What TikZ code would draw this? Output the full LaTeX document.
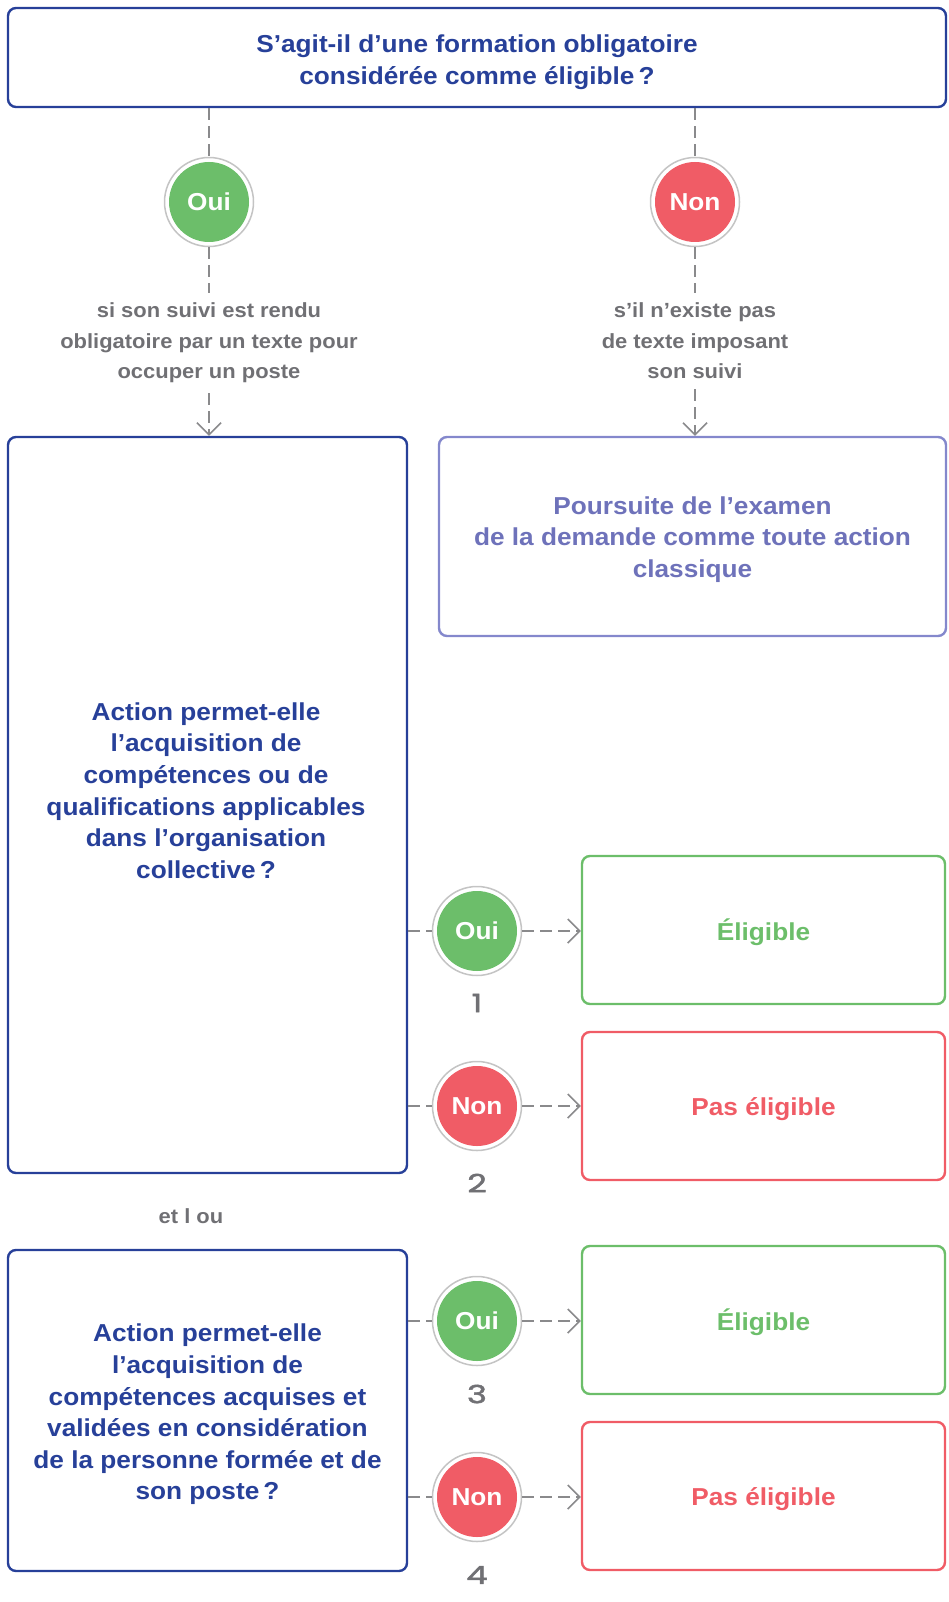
\documentclass[tikz,border=0pt]{standalone}
\usepackage{fontspec}
\setmainfont{Liberation Sans}
\newfontfamily\lab{Liberation Sans}[FakeStretch=1.07]
\newfontfamily\digitfont{Poppins}[FakeStretch=1.35,FakeBold=2]
\usetikzlibrary{arrows.meta}
\definecolor{navy}{RGB}{39,64,153}
\definecolor{gtext}{RGB}{112,112,116}
\definecolor{lav}{RGB}{132,136,204}
\definecolor{lavtext}{RGB}{110,114,186}
\definecolor{grn}{RGB}{108,190,106}
\definecolor{rd}{RGB}{240,92,102}
\definecolor{ringc}{RGB}{196,196,196}
\definecolor{dgray}{RGB}{138,138,140}
\tikzset{
  bigfont/.style={font=\lab\bfseries\fontsize{24.5pt}{31.6pt}\selectfont},
  frame/.style={rounded corners=8pt, line width=2.4pt, inner sep=0pt},
  qbox/.style={frame, draw=navy},
  lbox/.style={frame, draw=lav},
  gbox/.style={frame, draw=grn, minimum width=363pt, minimum height=148pt},
  rbox/.style={frame, draw=rd, minimum width=363pt, minimum height=148pt},
  txt/.style={align=center, inner sep=0pt, bigfont},
  qtext/.style={txt, text=navy},
  ltext/.style={txt, text=lavtext},
  gtxt/.style={txt, text=grn},
  rtxt/.style={txt, text=rd},
  note/.style={text=gtext, align=center, inner sep=10pt, font=\lab\bfseries\fontsize{20.5pt}{30.6pt}\selectfont},
  num/.style={text=gtext, inner sep=0pt, font=\digitfont\fontsize{25pt}{25pt}\selectfont},
  circ/.style={circle, minimum size=89pt, inner sep=0pt, draw=ringc, line width=1.5pt, fill=white, text=white, bigfont},
  yes/.style={circ, path picture={\fill[grn] (path picture bounding box.center) circle[radius=40pt];}},
  no/.style={circ, path picture={\fill[rd] (path picture bounding box.center) circle[radius=40pt];}},
  dline/.style={draw=dgray, line width=1.5pt, dash pattern=on 12pt off 6pt},
  arr/.style={-{Straight Barb[length=12pt,width=24pt,line width=1.5pt]}}
}
\begin{document}
\begin{tikzpicture}[x=1pt,y=-1pt]
\useasboundingbox (0,0) rectangle (948,1602);
% top question
\node[qbox, minimum width=938pt, minimum height=99pt] (q0) at (477,57.5) {};
\node[qtext] (q0t) at (477,62.5) {S’agit-il d’une formation obligatoire\\considérée comme éligible\,?};
\node[yes] (y0) at (209,202) {Oui};
\node[no] (n0) at (695,202) {Non};
\node[note] (t0) at (209,343) {si son suivi est rendu\\obligatoire par un texte pour\\occuper un poste};
\node[note] (t1) at (695,341) {s’il n’existe pas\\de texte imposant\\son suivi};
% boxes
\node[qbox, minimum width=399pt, minimum height=736pt] (b1) at (207.5,805) {};
\node[qtext] (b1t) at (206,790.5) {Action permet-elle\\l’acquisition de\\compétences ou de\\qualifications applicables\\dans l’organisation\\collective\,?};
\node[lbox, minimum width=507pt, minimum height=199pt] (p1) at (692.5,536.5) {};
\node[ltext] (p1t) at (692.5,539.5) {Poursuite de l’examen\\de la demande comme toute action\\classique};
\node[qbox, minimum width=399pt, minimum height=321pt] (b2) at (207.5,1410.5) {};
\node[qtext] (b2t) at (207.5,1414.5) {Action permet-elle\\l’acquisition de\\compétences acquises et\\validées en considération\\de la personne formée et de\\son poste\,?};
\node[note, inner sep=0pt] (et) at (191,1216) {et l ou};
% rows
\node[yes] (y1) at (477,931) {Oui};
\node[no] (n1) at (477,1106) {Non};
\node[yes] (y2) at (477,1321) {Oui};
\node[no] (n2) at (477,1497) {Non};
\node[gbox] (e1) at (763.5,930) {};
\node[gtxt] (e1t) at (763.5,932) {Éligible};
\node[rbox] (r1) at (763.5,1106) {};
\node[rtxt] (r1t) at (763.5,1109) {Pas éligible};
\node[gbox] (e2) at (763.5,1320) {};
\node[gtxt] (e2t) at (763.5,1322) {Éligible};
\node[rbox] (r2) at (763.5,1496) {};
\node[rtxt] (r2t) at (763.5,1499) {Pas éligible};
\node[num] (k1) at (477,1003) {1};
\node[num] (k2) at (477,1183) {2};
\node[num] (k3) at (477,1394) {3};
\node[num] (k4) at (477,1575) {4};
% connectors
\draw[dline] (q0.south -| y0) -- (y0.north);
\draw[dline] (y0.south) -- (t0.north);
\draw[dline,arr] (t0.south) -- (b1.north -| t0);
\draw[dline] (q0.south -| n0) -- (n0.north);
\draw[dline] (n0.south) -- (t1.north);
\draw[dline,arr] (t1.south) -- (p1.north -| t1);
\draw[dline] (b1.east |- y1) -- (y1.west);
\draw[dline,arr] (y1.east) -- (e1.west |- y1);
\draw[dline] (b1.east |- n1) -- (n1.west);
\draw[dline,arr] (n1.east) -- (r1.west |- n1);
\draw[dline] (b2.east |- y2) -- (y2.west);
\draw[dline,arr] (y2.east) -- (e2.west |- y2);
\draw[dline] (b2.east |- n2) -- (n2.west);
\draw[dline,arr] (n2.east) -- (r2.west |- n2);
\end{tikzpicture}
\end{document}
